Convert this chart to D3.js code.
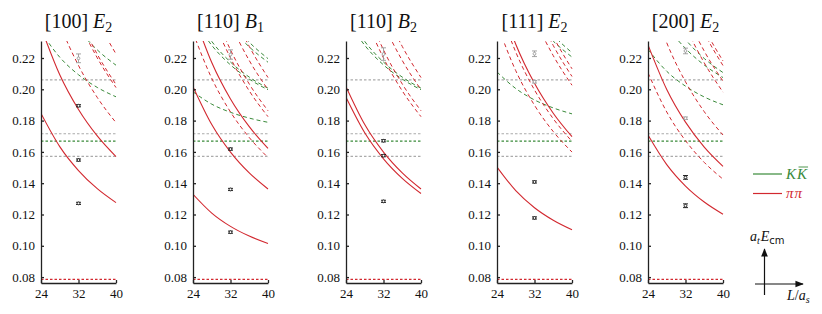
<!DOCTYPE html>
<html><head><meta charset="utf-8">
<script src="https://cdn.jsdelivr.net/npm/d3@7"></script>
<style>body{margin:0;background:#fff} svg{display:block}</style>
</head><body><svg id="c" width="822" height="314"></svg>
<script>
// ---------- data ----------
const Ls = [24, 28, 32, 36, 40];
const momenta = ["[100]", "[110]", "[110]", "[111]", "[200]"];
const irrepLetters = ["E", "B", "B", "E", "E"];
const irrepSubs = ["2", "1", "2", "2", "2"];
const yTicks = [0.08, 0.10, 0.12, 0.14, 0.16, 0.18, 0.20, 0.22];
const xTicks = [24, 32, 40];
const grayThresholds = [0.1571, 0.1716, 0.2060];
const kkThreshold = 0.1669;
const pipiThreshold = 0.0786;
const legendLabels = ["KK", "ππ"];

// [100] E2
const pipiSolid100 = [
  [0.1846, 0.1634, 0.1481, 0.1365, 0.1276],
  [0.2396, 0.2093, 0.1871, 0.1702, 0.1570]];
const pipiDashed100 = [
  [0.2781, 0.2419, 0.2152, 0.1948, 0.1787],
  [0.3180, 0.2756, 0.2442, 0.2201, 0.2011],
  [0.3219, 0.2788, 0.2469, 0.2224, 0.2031],
  [0.3559, 0.3077, 0.2719, 0.2444, 0.2226]];
const kk100 = [
  [0.2368, 0.2205, 0.2093, 0.2012, 0.1952],
  [0.2814, 0.2561, 0.2383, 0.2252, 0.2154]];
const black100 = [0.1895, 0.1548, 0.1271];
const blackErr100 = [0.0007, 0.0007, 0.0007];
const gray100 = [0.2198];
const grayErr100 = [0.0028];

// [110] B1
const pipiSolid110B1 = [
  [0.1329, 0.1209, 0.1124, 0.1062, 0.1015],
  [0.2017, 0.1775, 0.1599, 0.1466, 0.1363],
  [0.2487, 0.2171, 0.1938, 0.1761, 0.1622]];
const pipiDashed110B1 = [
  [0.2362, 0.2070, 0.1855, 0.1692, 0.1564],
  [0.2845, 0.2474, 0.2200, 0.1990, 0.1825],
  [0.2921, 0.2536, 0.2252, 0.2034, 0.1863],
  [0.3144, 0.2728, 0.2421, 0.2184, 0.1998],
  [0.3295, 0.2853, 0.2525, 0.2274, 0.2075]];
const kk110B1 = [
  [0.1984, 0.1905, 0.1853, 0.1816, 0.1789],
  [0.2497, 0.2306, 0.2174, 0.2078, 0.2007],
  [0.2460, 0.2281, 0.2156, 0.2065, 0.1997],
  [0.2898, 0.2630, 0.2440, 0.2301, 0.2196],
  [0.2820, 0.2574, 0.2399, 0.2271, 0.2173]];
const black110B1 = [0.1618, 0.1360, 0.1087];
const blackErr110B1 = [0.0007, 0.0007, 0.0007];
const gray110B1 = [0.2222];
const grayErr110B1 = [0.0030];

// [110] B2
const pipiSolid110B2 = [
  [0.2017, 0.1775, 0.1599, 0.1466, 0.1363],
  [0.1949, 0.1722, 0.1556, 0.1431, 0.1334]];
const pipiDashed110B2 = [
  [0.2845, 0.2474, 0.2200, 0.1990, 0.1825],
  [0.2921, 0.2536, 0.2252, 0.2034, 0.1863],
  [0.3144, 0.2728, 0.2421, 0.2184, 0.1998],
  [0.3295, 0.2853, 0.2525, 0.2274, 0.2075]];
const kk110B2 = [
  [0.2497, 0.2306, 0.2174, 0.2078, 0.2007],
  [0.2460, 0.2281, 0.2156, 0.2065, 0.1997]];
const black110B2 = [0.1671, 0.1576, 0.1284];
const blackErr110B2 = [0.0007, 0.0007, 0.0007];
const gray110B2 = [0.2225];
const grayErr110B2 = [0.0040];

// [111] E2
const pipiSolid111 = [
  [0.1503, 0.1352, 0.1243, 0.1163, 0.1102],
  [0.2627, 0.2288, 0.2038, 0.1847, 0.1697]];
const pipiDashed111 = [
  [0.2419, 0.2119, 0.1898, 0.1730, 0.1599],
  [0.2566, 0.2238, 0.1996, 0.1812, 0.1667],
  [0.3191, 0.2768, 0.2455, 0.2215, 0.2026],
  [0.3299, 0.2858, 0.2531, 0.2280, 0.2082],
  [0.3393, 0.2937, 0.2598, 0.2337, 0.2131]];
const kk111 = [
  [0.2111, 0.2005, 0.1932, 0.1881, 0.1843],
  [0.2878, 0.2624, 0.2442, 0.2308, 0.2206],
  [0.2971, 0.2691, 0.2492, 0.2346, 0.2234]];
const black111 = [0.1408, 0.1178];
const blackErr111 = [0.0007, 0.0007];
const gray111 = [0.2227, 0.2048];
const grayErr111 = [0.0018, 0.0008];

// [200] E2
const pipiSolid200 = [
  [0.1708, 0.1519, 0.1382, 0.1280, 0.1202],
  [0.2284, 0.1999, 0.1790, 0.1631, 0.1508]];
const pipiDashed200 = [
  [0.2105, 0.1855, 0.1672, 0.1533, 0.1426],
  [0.2635, 0.2297, 0.2048, 0.1857, 0.1708],
  [0.3133, 0.2716, 0.2406, 0.2169, 0.1982],
  [0.3234, 0.2805, 0.2488, 0.2244, 0.2052],
  [0.3426, 0.2965, 0.2623, 0.2360, 0.2152],
  [0.3481, 0.3011, 0.2662, 0.2393, 0.2181]];
const kk200 = [
  [0.2255, 0.2115, 0.2020, 0.1951, 0.1901],
  [0.2608, 0.2405, 0.2261, 0.2155, 0.2075],
  [0.2717, 0.2483, 0.2318, 0.2197, 0.2107]];
const black200 = [0.1437, 0.1256];
const blackErr200 = [0.0012, 0.0012];
const gray200 = [0.2245, 0.1815];
const grayErr200 = [0.0018, 0.0008];

const pointL = 32;

const panels = [
  {solid: pipiSolid100, dashed: pipiDashed100, kk: kk100, black: black100, bErr: blackErr100, gray: gray100, gErr: grayErr100},
  {solid: pipiSolid110B1, dashed: pipiDashed110B1, kk: kk110B1, black: black110B1, bErr: blackErr110B1, gray: gray110B1, gErr: grayErr110B1},
  {solid: pipiSolid110B2, dashed: pipiDashed110B2, kk: kk110B2, black: black110B2, bErr: blackErr110B2, gray: gray110B2, gErr: grayErr110B2},
  {solid: pipiSolid111, dashed: pipiDashed111, kk: kk111, black: black111, bErr: blackErr111, gray: gray111, gErr: grayErr111},
  {solid: pipiSolid200, dashed: pipiDashed200, kk: kk200, black: black200, bErr: blackErr200, gray: gray200, gErr: grayErr200}
];

// ---------- drawing ----------
const RED = "#d2282f", GREEN = "#3a8a3a", GRAYL = "#ababab", PTGRAY = "#9a9a9a";
const SERIF = "'Liberation Serif', 'DejaVu Serif', serif";
const svg = d3.select("#c");
const defs = svg.append("defs");
const plotTop = 41, plotBottom = 283, W = 75;
const y = d3.scaleLinear().domain([0.07623, 0.23086]).range([plotBottom, plotTop]);
const panelX = [41, 193, 346, 497, 648];

panels.forEach((p, i) => {
  const x0 = panelX[i];
  const x = d3.scaleLinear().domain([24, 40]).range([x0, x0 + W]);
  const cid = "clip" + i;
  defs.append("clipPath").attr("id", cid).append("rect")
    .attr("x", x0).attr("y", plotTop).attr("width", W + 1).attr("height", plotBottom - plotTop);
  const g = svg.append("g");
  const pg = g.append("g").attr("clip-path", `url(#${cid})`);

  pg.append("line").attr("x1", x0).attr("x2", x0 + W)
    .attr("y1", y(pipiThreshold)).attr("y2", y(pipiThreshold))
    .attr("stroke", RED).attr("stroke-width", 1.2).attr("stroke-dasharray", "2.5,2");
  grayThresholds.forEach(t => {
    pg.append("line").attr("x1", x0).attr("x2", x0 + W)
      .attr("y1", y(t)).attr("y2", y(t))
      .attr("stroke", GRAYL).attr("stroke-width", 1.2).attr("stroke-dasharray", "2.5,2");
  });
  pg.append("line").attr("x1", x0).attr("x2", x0 + W)
    .attr("y1", y(kkThreshold)).attr("y2", y(kkThreshold))
    .attr("stroke", GREEN).attr("stroke-width", 1.2).attr("stroke-dasharray", "2.5,2");

  const line = d3.line().x((d, j) => x(Ls[j])).y(d => y(d)).curve(d3.curveMonotoneX);

  p.kk.forEach(s => pg.append("path").attr("d", line(s)).attr("fill", "none")
    .attr("stroke", GREEN).attr("stroke-width", 1).attr("stroke-dasharray", "4,3"));
  p.dashed.forEach(s => pg.append("path").attr("d", line(s)).attr("fill", "none")
    .attr("stroke", RED).attr("stroke-width", 1).attr("stroke-dasharray", "4,3"));
  p.solid.forEach(s => pg.append("path").attr("d", line(s)).attr("fill", "none")
    .attr("stroke", RED).attr("stroke-width", 1.1));

  const drawPt = (v, e, col) => {
    const px = x(pointL);
    const gp = g.append("g").attr("stroke", col).attr("fill", "none").attr("stroke-width", 0.9);
    gp.append("line").attr("x1", px).attr("x2", px).attr("y1", y(v - e)).attr("y2", y(v + e));
    [v - e, v + e].forEach(vv => gp.append("line").attr("x1", px - 2.5).attr("x2", px + 2.5)
      .attr("y1", y(vv)).attr("y2", y(vv)));
    gp.append("circle").attr("cx", px).attr("cy", y(v)).attr("r", 1.4).attr("fill", "#fff");
  };
  p.gray.forEach((v, k) => drawPt(v, p.gErr[k], PTGRAY));
  p.black.forEach((v, k) => drawPt(v, p.bErr[k], "#111"));

  const ay = g.append("g").attr("transform", `translate(${x0},0)`)
    .call(d3.axisLeft(y).tickValues(yTicks).tickFormat(d3.format(".2f")).tickSizeInner(-3).tickSizeOuter(0).tickPadding(6));
  const ax = g.append("g").attr("transform", `translate(0,${plotBottom})`)
    .call(d3.axisBottom(x).tickValues(xTicks).tickFormat(d3.format("d")).tickSizeInner(-3).tickSizeOuter(0).tickPadding(6));
  [ay, ax].forEach(a => {
    a.selectAll("path,line").attr("stroke", "#222").attr("stroke-width", 1.3);
    a.selectAll("text").attr("font-family", SERIF).attr("font-size", 13).attr("fill", "#111");
  });

  const t = svg.append("text").attr("x", x0 + W / 2).attr("y", 28).attr("text-anchor", "middle")
    .attr("font-family", SERIF).attr("font-size", 20).attr("fill", "#111");
  t.append("tspan").text(momenta[i] + " ");
  t.append("tspan").attr("font-style", "italic").text(irrepLetters[i]);
  t.append("tspan").attr("font-size", 14).attr("dy", 4).text(irrepSubs[i]);
});

// legend
const lg = svg.append("g");
lg.append("line").attr("x1", 753).attr("x2", 782).attr("y1", 174).attr("y2", 174).attr("stroke", GREEN).attr("stroke-width", 1.2);
lg.append("line").attr("x1", 753).attr("x2", 782).attr("y1", 193.5).attr("y2", 193.5).attr("stroke", RED).attr("stroke-width", 1.2);
const k1 = lg.append("text").attr("x", 786).attr("y", 179).attr("font-family", SERIF).attr("font-style", "italic")
  .attr("font-size", 15).attr("fill", GREEN).text(legendLabels[0][0]);
const kw = k1.node().getComputedTextLength();
const k2 = lg.append("text").attr("x", 786 + kw + 1).attr("y", 179).attr("font-family", SERIF).attr("font-style", "italic")
  .attr("font-size", 15).attr("fill", GREEN).text(legendLabels[0][1]);
const kw2 = k2.node().getComputedTextLength();
lg.append("line").attr("x1", 786 + kw + 2.5).attr("x2", 786 + kw + 1 + kw2 + 1).attr("y1", 167).attr("y2", 167)
  .attr("stroke", GREEN).attr("stroke-width", 0.9);
lg.append("text").attr("x", 786).attr("y", 198).attr("font-family", SERIF).attr("font-style", "italic")
  .attr("font-size", 15).attr("fill", RED).attr("letter-spacing", 1).text(legendLabels[1]);

// axis key
const ak = svg.append("g");
defs.append("marker").attr("id", "arr").attr("viewBox", "0 0 10 10").attr("refX", 9).attr("refY", 5)
  .attr("markerWidth", 7).attr("markerHeight", 7).attr("orient", "auto")
  .append("path").attr("d", "M0,1 L10,5 L0,9 Z").attr("fill", "#111");
ak.append("line").attr("x1", 764.5).attr("x2", 764.5).attr("y1", 295).attr("y2", 249)
  .attr("stroke", "#111").attr("stroke-width", 1.2).attr("marker-end", "url(#arr)");
ak.append("line").attr("x1", 755).attr("x2", 803).attr("y1", 284).attr("y2", 284)
  .attr("stroke", "#111").attr("stroke-width", 1.2).attr("marker-end", "url(#arr)");
const el = ak.append("text").attr("x", 750).attr("y", 241).attr("font-family", SERIF).attr("font-size", 14).attr("fill", "#111");
el.append("tspan").attr("font-style", "italic").text("a");
el.append("tspan").attr("font-style", "italic").attr("font-size", 10).attr("dy", 3).text("t");
el.append("tspan").attr("font-style", "italic").attr("dy", -3).attr("dx", 1).text("E");
el.append("tspan").attr("font-family", "'DejaVu Sans', sans-serif").attr("font-size", 10).attr("dy", 3).text("cm");
const ll = ak.append("text").attr("x", 787).attr("y", 300).attr("font-family", SERIF).attr("font-size", 14).attr("fill", "#111");
ll.append("tspan").attr("font-style", "italic").text("L");
ll.append("tspan").text("/");
ll.append("tspan").attr("font-style", "italic").text("a");
ll.append("tspan").attr("font-style", "italic").attr("font-size", 10).attr("dy", 3).text("s");
</script></body></html>
